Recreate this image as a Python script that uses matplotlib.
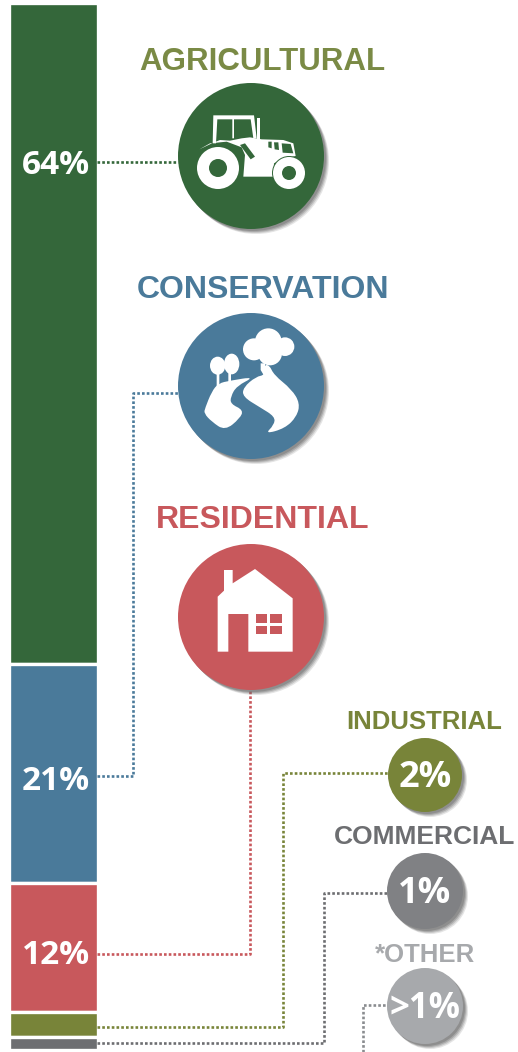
import matplotlib
matplotlib.use('Agg')
import matplotlib.pyplot as plt
from matplotlib.patches import Circle, Polygon, Rectangle, Ellipse, PathPatch
from matplotlib.path import Path

# land use shares
categories = ['AGRICULTURAL', 'CONSERVATION', 'RESIDENTIAL', 'INDUSTRIAL', 'COMMERCIAL', '*OTHER']
bar_values = [64, 21.2, 12.5, 2.4, 1.3]
bar_labels = ['64%', '21%', '12%', '', '']
bubble_labels = ['', '', '', '2%', '1%', '>1%']

colors = ['#34673a', '#4a7a9a', '#c8585c', '#788439', '#6d6e71', '#a7a9ac']
bubble_colors = ['#34673a', '#4a7a9a', '#c8585c', '#788439', '#808184', '#a7a9ac']
title_colors = ['#7a8a45', '#4a7a9a', '#c8585c', '#788439', '#6d6e71', '#a7a9ac']

fig = plt.figure(figsize=(5.18, 10.52), dpi=100)

# stacked bar, y in percent from the top
bar_ax = fig.add_axes([0, 0, 1, 1])
bar_ax.set_xlim(0, 518)
bar_ax.set_ylim(1049 / 10.33, -3 / 10.33)
bar_ax.axis('off')
bottom = 0
for val, col in zip(bar_values, colors):
    bar_ax.bar(53.5, val, width=89, bottom=bottom, color=col, edgecolor='white', linewidth=2.4, align='center')
    bottom += val

# everything else is laid out in pixels
ax = fig.add_axes([0, 0, 1, 1])
ax.set_xlim(0, 518)
ax.set_ylim(1052, 0)
ax.axis('off')
ax.patch.set_alpha(0)

# connectors
lines = [
    ([97, 178], [162, 162], colors[0]),
    ([97, 133, 133, 178], [776, 776, 393, 393], colors[1]),
    ([97, 250, 250], [954, 954, 688], colors[2]),
    ([97, 283, 283, 388], [1027, 1027, 773, 773], colors[3]),
    ([97, 324, 324, 388], [1043, 1043, 893, 893], colors[4]),
    ([363, 363, 388], [1052, 1005, 1005], '#8a8c8f'),
]
for xs, ys, col in lines:
    ax.plot(xs, ys, color=col, lw=1.9, linestyle=(0, (1, 0.8)), zorder=1)

# circles
centers = [(251, 156), (251, 386), (251, 617), (425, 775), (425, 891), (425, 1006)]
radii = [73, 73, 73, 37, 38, 38]
for (cx, cy), r, col in zip(centers, radii, bubble_colors):
    for off, a in [(5, 0.18), (4, 0.25), (3, 0.35), (2, 0.45)]:
        ax.add_patch(Circle((cx + off, cy + off), r, color='#6f6f6f', alpha=a, lw=0, zorder=2))
    ax.add_patch(Circle((cx, cy), r, color=col, lw=0, zorder=3))

# titles
title_pos = [(262, 62), (263, 290), (263, 520), (424, 722), (425, 837), (425, 955)]
title_size = [22.5, 23, 23, 18.5, 19, 18.5]
for name, (x, y), fs, col in zip(categories, title_pos, title_size, title_colors):
    ax.text(x, y, name, color=col, fontsize=fs, fontweight='bold', family='Liberation Sans', ha='center', va='center')

# percent labels
for lab, y in zip(bar_labels[:3], [165, 781, 955]):
    ax.text(56, y, lab, color='white', fontsize=24, fontweight='bold', family='Open Sans', ha='center', va='center', zorder=5)
for lab, (x, y), fs in zip(bubble_labels[3:], centers[3:], [26, 26, 25]):
    ax.text(x, y + 3, lab, color='white', fontsize=fs, fontweight='bold', family='Open Sans', ha='center', va='center', zorder=5)


def zoomed(points, ox, oy):
    return [(ox + px / 3, oy + py / 3) for px, py in points]


def shape(points, ox, oy, col='white', z=4):
    ax.add_patch(Polygon(zoomed(points, ox, oy), closed=True, color=col, lw=0, zorder=z))


def soft_shape(points, ox, oy, col='white', z=4):
    # rounded outline through the midpoints of the polygon sides
    pts = zoomed(points, ox, oy)
    n = len(pts)
    mids = [((pts[i][0] + pts[(i + 1) % n][0]) / 2, (pts[i][1] + pts[(i + 1) % n][1]) / 2) for i in range(n)]
    verts = [mids[-1]]
    codes = [Path.MOVETO]
    for i in range(n):
        verts += [pts[i], mids[i]]
        codes += [Path.CURVE3, Path.CURVE3]
    ax.add_patch(PathPatch(Path(verts, codes), facecolor=col, edgecolor='none', lw=0, zorder=z))


# tractor
tx, ty = 130, 30
shape([(208, 358), (240, 340), (290, 335), (335, 352), (345, 375), (340, 440), (430, 440), (432, 400), (460, 385),
       (497, 378), (490, 340), (460, 330), (395, 328), (360, 322), (335, 325), (300, 332), (270, 330), (250, 338)], tx, ty)
shape([(250, 256), (372, 256), (380, 325), (370, 325), (362, 268), (312, 268), (312, 325), (307, 325), (307, 268),
       (262, 268), (258, 340), (248, 340)], tx, ty)
shape([(380, 265), (391, 265), (391, 330), (380, 330)], tx, ty)
shape([(415, 335), (425, 335), (425, 355), (415, 352)], tx, ty, colors[0], 5)
shape([(432, 337), (445, 337), (447, 360), (434, 358)], tx, ty, colors[0], 5)
shape([(455, 340), (482, 342), (490, 370), (458, 368)], tx, ty, colors[0], 5)
shape([(330, 345), (345, 340), (375, 380), (362, 388)], tx, ty, colors[0], 5)
for (cx, cy), r, hole in [((218, 168), 21, 9), ((289, 173), 16, 7)]:
    ax.add_patch(Circle((cx, cy), r + 1, color=colors[0], lw=0, zorder=4.2))
    ax.add_patch(Circle((cx, cy), r, color='white', lw=0, zorder=4.3))
    ax.add_patch(Circle((cx, cy), hole, color=colors[0], lw=0, zorder=4.4))

# trees and river
rx, ry = 130, 300
soft_shape([(225, 325), (245, 275), (265, 250), (300, 242), (375, 230), (320, 258), (302, 290), (302, 312), (340, 330),
            (330, 355), (285, 392), (245, 365), (222, 340)], rx, ry)
soft_shape([(378, 230), (340, 262), (338, 290), (390, 322), (435, 350), (432, 375), (405, 402), (465, 385), (500, 350),
            (510, 310), (485, 268), (432, 225), (418, 195), (402, 195), (405, 225)], rx, ry)
shape([(260, 210), (268, 210), (268, 260), (260, 262)], rx, ry)
shape([(295, 210), (303, 210), (303, 250), (295, 252)], rx, ry)
shape([(392, 190), (405, 190), (405, 232), (392, 210)], rx, ry)
for ex, ey, ew, eh in [(263, 197, 46, 54), (305, 192, 46, 62)]:
    ax.add_patch(Ellipse((rx + ex / 3, ry + ey / 3), ew / 3, eh / 3, color='white', lw=0, zorder=4))
for ex, ey, er in [(372, 148, 33), (415, 125, 40), (465, 140, 28), (420, 160, 36)]:
    ax.add_patch(Circle((rx + ex / 3, ry + ey / 3), er / 3, color='white', lw=0, zorder=4))

# house
hx, hy = 150, 500
shape([(203, 290), (222, 272), (222, 210), (248, 210), (248, 250), (315, 207), (428, 295), (428, 455), (295, 455),
       (295, 342), (235, 342), (235, 455), (203, 455)], hx, hy)
for wx, wy in [(318, 343), (361, 343), (318, 377), (361, 377)]:
    ax.add_patch(Rectangle((hx + wx / 3, hy + wy / 3), 34 / 3, 26 / 3, color=colors[2], lw=0, zorder=5))

fig.savefig('out.png', dpi=100)
